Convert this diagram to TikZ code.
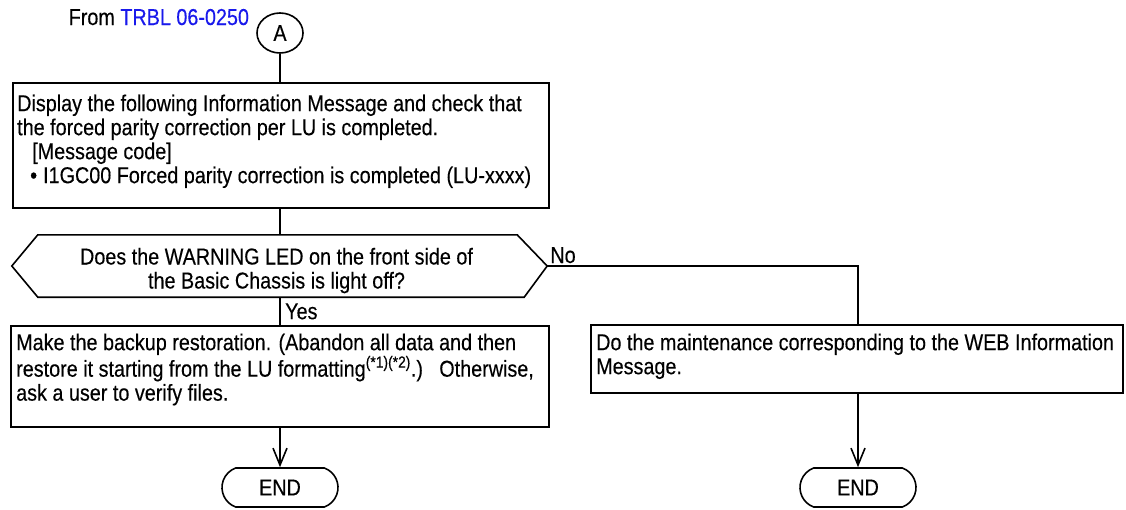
\documentclass[tikz,border=0pt]{standalone}
\usepackage{fontspec}
\setmainfont{Liberation Sans}[FakeStretch=0.86,FakeBold=0.3]
\usetikzlibrary{arrows.meta,shapes.geometric,shapes.misc,calc}
\definecolor{linkblue}{RGB}{25,25,235}
\newcommand{\firstline}{\rule{0pt}{17pt}}
\begin{document}
\begin{tikzpicture}[x=1pt,y=-1pt,
  every node/.style={font=\fontsize{23}{24}\selectfont},
  conn/.style={line width=1.6pt},
  arr/.style={conn,-{Straight Barb[length=17pt,width=14pt,line width=1.6pt]}},
  procbox/.style={draw,line width=1.6pt,anchor=north west,inner sep=0pt},
  txt/.style={anchor=north west,inner sep=0pt,align=left},
  term/.style={draw,line width=1.6pt,rounded rectangle,rounded rectangle arc length=140,minimum width=116pt,minimum height=39pt,inner sep=0pt},
  conn node/.style={draw,ellipse,line width=1.6pt,minimum width=46pt,minimum height=40pt,inner sep=0pt}
]
\useasboundingbox (0,0) rectangle (1126,509);

% connector A
\node[conn node] (A) at (280,33) {A};
\node[anchor=base east,inner sep=0pt] (from) at ([xshift=-7pt,yshift=8pt]A.west) {From \textcolor{linkblue}{TRBL 06-0250}};

% box 1
\node[procbox,minimum width=536pt,minimum height=125pt] (b1) at (12,82) {};
\node[txt] (b1t) at ([xshift=5pt,yshift=-12pt]b1.north west)
{\firstline Display the following Information Message and check that\\
the forced parity correction per LU is completed.\\
\hspace*{15pt}[Message code]\\
\hspace*{13pt}•\hspace{6pt}I1GC00 Forced parity correction is completed (LU-xxxx)};

% decision
\node[minimum width=535pt,minimum height=62pt,inner sep=0pt] (dec) at (279.5,266) {};
\draw[conn] (dec.west) -- ([xshift=26pt]dec.north west) -- ([xshift=-30pt]dec.north east)
  -- (dec.east) -- ([xshift=-23pt]dec.south east) -- ([xshift=26pt]dec.south west) -- cycle;
\node[anchor=north,inner sep=0pt,align=center] (dect) at ([xshift=-3pt,yshift=-12.5pt]dec.north)
{\firstline Does the WARNING LED on the front side of\\the Basic Chassis is light off?};

% box 2
\node[procbox,minimum width=538pt,minimum height=101pt] (b2) at (10,325) {};
\node[txt] (b2t) at ([xshift=6pt,yshift=-8pt]b2.north west)
{\firstline Make the backup restoration. (Abandon all data and then\\
restore it starting from the LU formatting\textsuperscript{(*1)(*2)}.)\hspace{9pt} Otherwise,\\
ask a user to verify files.};

% box 3
\node[procbox,minimum width=532pt,minimum height=68pt] (b3) at (590,324) {};
\node[txt] (b3t) at ([xshift=6pt,yshift=-9pt]b3.north west)
{\firstline Do the maintenance corresponding to the WEB Information\\
Message.};

% terminals
\node[term] (e1) at (280,487.5) {END};
\node[term] (e2) at (858,487.5) {END};

% labels
\node[anchor=base west,inner sep=0pt] (no) at ([xshift=3pt,yshift=3pt]dec.east) {No};
\node[anchor=base west,inner sep=0pt] (yes) at ([xshift=5pt,yshift=-22pt]dec.south -| A.south) {Yes};

% connectors
\coordinate (nocol) at (858,266);
\draw[conn] (A.south) -- (A.south |- b1.north);
\draw[conn] (b1.south -| A.south) -- (dec.north -| A.south);
\draw[conn] (dec.south -| A.south) -- (b2.north -| A.south);
\draw[arr] (b2.south -| e1.north) -- (e1.north);
\draw[conn] (dec.east) -- (nocol) -- (nocol |- b3.north);
\draw[arr] (b3.south -| e2.north) -- (e2.north);
\end{tikzpicture}
\end{document}
